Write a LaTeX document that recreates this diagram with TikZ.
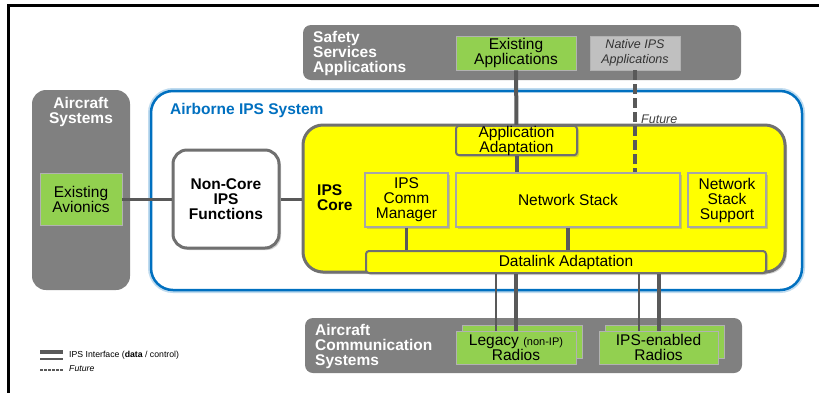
\documentclass[tikz,border=0pt]{standalone}
\usepackage{fontspec}
\setmainfont{Liberation Sans}
\usetikzlibrary{arrows}
\usetikzlibrary{positioning}
\usetikzlibrary{calc}
\usetikzlibrary{shadows}
\definecolor{grp}{HTML}{808080}
\definecolor{appgreen}{HTML}{92D050}
\definecolor{natgray}{HTML}{C0C0C0}
\definecolor{ipsblue}{HTML}{0070C0}
\definecolor{coreyellow}{HTML}{FFFF00}
\definecolor{linkgray}{HTML}{595959}
\definecolor{edgegray}{HTML}{707070}

\begin{document}
\begin{tikzpicture}[x=1pt,y=-1pt,
  group node/.style={fill=grp,rounded corners=8pt,inner sep=0pt},
  group title/.style={text=white,font=\fontsize{15.5}{15}\selectfont\bfseries,inner sep=0pt},
  green node/.style={fill=appgreen,draw=black!30,line width=0.8pt,inner sep=0pt,align=center,font=\fontsize{15.5}{15}\selectfont},
  sub node/.style={fill=coreyellow,draw=black!35,line width=1.2pt,inner sep=0pt,align=center,font=\fontsize{15.5}{15}\selectfont,drop shadow={shadow xshift=2pt,shadow yshift=-2pt,opacity=0.35}},
  adapt node/.style={sub node,draw=edgegray,line width=2pt,rounded corners=3pt},
  link/.style={draw=linkgray,line width=4pt},
  thin link/.style={draw=linkgray,line width=2.5pt},
  future/.style={draw=linkgray,line width=4pt,dash pattern=on 10pt off 4pt}]

  \useasboundingbox (0,0) rectangle (819,392);
  \fill[white] (0,0) rectangle (819,392);
  \draw[line width=3pt] (8,5) rectangle (830,400);

  \node[group node,minimum width=438pt,minimum height=55pt] (saf) at (522,52.5) {};
  \node[group title,anchor=west,align=left] (saft) at (313,53) {Safety\\Services\\Applications};
  \node[green node,minimum width=120pt,minimum height=34pt] (exapp) at (516,53) {Existing\\Applications};
  \node[green node,fill=natgray,text=black!80,minimum width=90pt,minimum height=34pt,font=\fontsize{12.5}{15}\selectfont\itshape] (natapp) at (635,53) {Native IPS\\Applications};

  \node[group node,rounded corners=14pt,minimum width=98pt,minimum height=200pt] (acs) at (81,190) {};
  \node[group title,align=center] (acst) at (81,112) {Aircraft\\Systems};
  \node[green node,minimum width=82pt,minimum height=52pt] (avi) at (81,199) {Existing\\Avionics};

  \node[draw=ipsblue,line width=2.5pt,fill=white,rounded corners=22pt,preaction={draw=ipsblue!25,line width=6pt},minimum width=651pt,minimum height=199pt] (ips) at (476.5,190.5) {};
  \node[anchor=west,inner sep=0pt,text=ipsblue,font=\fontsize{15.5}{15}\selectfont\bfseries] (ipst) at (170,110) {Airborne IPS System};

  \node[fill=white,draw=edgegray,line width=3pt,rounded corners=14pt,minimum width=106pt,minimum height=98pt,align=center,font=\fontsize{15.5}{15}\selectfont\bfseries,drop shadow={shadow xshift=2pt,shadow yshift=-2pt,opacity=0.35}] (nc) at (226,199) {Non-Core\\IPS\\Functions};

  \node[fill=coreyellow,draw=edgegray,line width=3pt,rounded corners=20pt,minimum width=482pt,minimum height=147pt,drop shadow={shadow xshift=2pt,shadow yshift=-2pt,opacity=0.35}] (core) at (544,198.5) {};
  \node[anchor=west,inner sep=0pt,align=left,font=\fontsize{15.5}{15}\selectfont\bfseries] (coret) at (317,198) {IPS\\Core};

  \node[adapt node,minimum width=121pt,minimum height=29pt] (aa) at (516.5,140.5) {Application\\Adaptation};
  \node[sub node,minimum width=83pt,minimum height=54pt] (icm) at (406.5,200) {IPS\\Comm\\Manager};
  \node[sub node,minimum width=224pt,minimum height=54pt] (ns) at (568,200) {Network Stack};
  \node[sub node,minimum width=78pt,minimum height=54pt] (nss) at (727,200) {Network\\Stack\\Support};
  \node[adapt node,minimum width=400pt,minimum height=22pt] (dla) at (566,262) {Datalink Adaptation};

  \node[group node,minimum width=437pt,minimum height=55pt] (comm) at (523.5,345.5) {};
  \node[group title,anchor=west,align=left] (commt) at (315,346) {Aircraft\\Communication\\Systems};
  \node[green node,minimum width=120pt,minimum height=33pt] (legb) at (522,342) {};
  \node[green node,minimum width=120pt,minimum height=33pt] (leg) at (516,347.5) {Legacy {\fontsize{11}{12}\selectfont(non-IP)}\\Radios};
  \node[green node,minimum width=119pt,minimum height=33pt] (iprb) at (664.5,342) {};
  \node[green node,minimum width=119pt,minimum height=33pt] (ipr) at (658.5,347.5) {IPS-enabled\\Radios};

  \path
    (avi) edge[thin link,line width=3pt] (nc)
    (nc) edge[thin link,line width=3pt] (core.west |- nc.east)
    (exapp) edge[link] (aa)
    (aa) edge[link] (aa.south |- ns.north)
    (natapp.south) edge[future] (natapp.south |- ns.north)
    (icm) edge[thin link,line width=3pt] (icm |- dla.north)
    (ns.south) edge[link] (ns.south |- dla.north)
    ([xshift=-20pt]leg.north) edge[thin link] ([xshift=-20pt]leg.north |- dla.south)
    (leg.north) edge[link] (leg.north |- dla.south)
    ([xshift=-19.5pt]ipr.north) edge[thin link] ([xshift=-19.5pt]ipr.north |- dla.south)
    (ipr.north) edge[link] (ipr.north |- dla.south)
  ;
  \node[anchor=west,inner sep=0pt,text=black!75,font=\fontsize{12.5}{13}\selectfont\itshape] (fut) at (641,119) {Future};

  \draw[linkgray,line width=4pt] (40,352) -- (63,352);
  \draw[linkgray,line width=2.5pt] (40,359) -- (63,359);
  \draw[linkgray,line width=2pt,dash pattern=on 2.5pt off 1.5pt] (40,370) -- (63,370);
  \node[anchor=west,inner sep=0pt,font=\fontsize{8.7}{10}\selectfont] (lgd) at (69,355) {IPS Interface (\textbf{data} / control)};
  \node[anchor=west,inner sep=0pt,font=\fontsize{8.7}{10}\selectfont\itshape] (lgf) at (69,369) {Future};
\end{tikzpicture}
\end{document}
